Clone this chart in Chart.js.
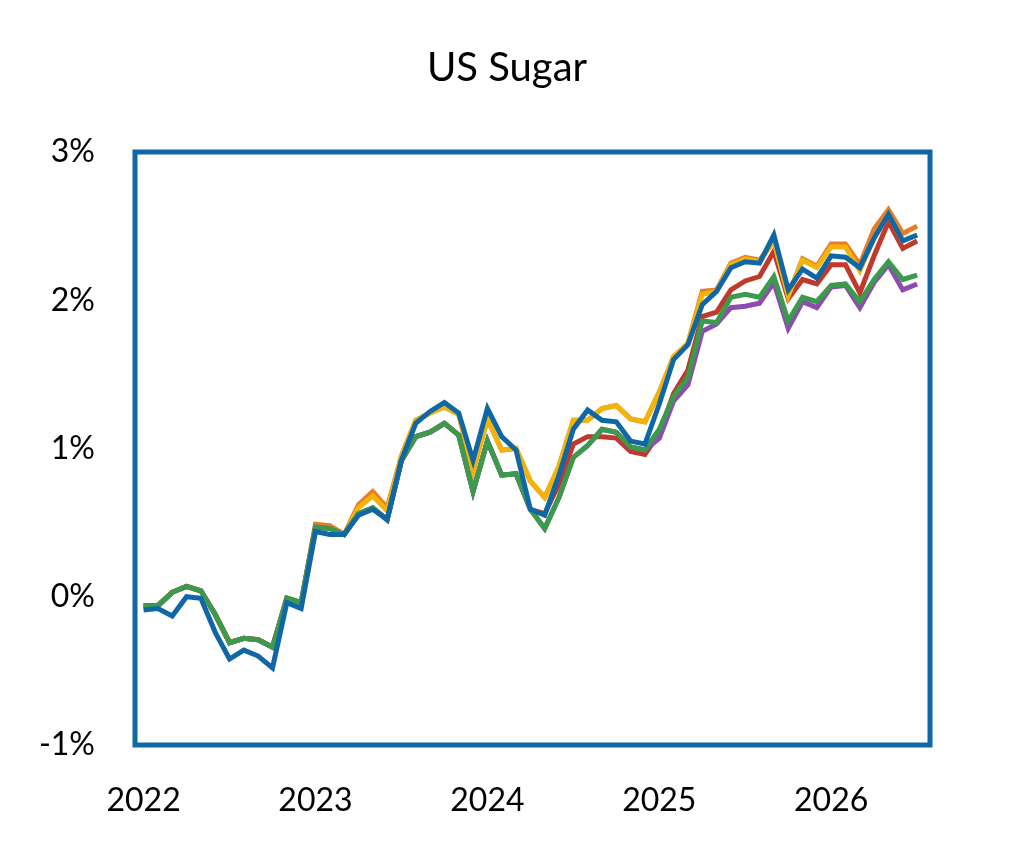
<!DOCTYPE html>
<html>
<head>
<meta charset="utf-8">
<script src="https://cdn.jsdelivr.net/npm/chart.js@4"></script>
<style>
  html, body { margin: 0; padding: 0; background: #fff; }
</style>
</head>
<body>
<canvas id="chart" width="1014" height="846"></canvas>
<script>
const title = 'US Sugar';
const yearTicks = [2022, 2023, 2024, 2025, 2026];
// monthly values, Jan 2022 .. Jul 2026 (percent)
const blue = [-0.09,-0.08,-0.13,0.0,-0.01,-0.24,-0.42,-0.36,-0.40,-0.48,-0.04,-0.08,
  0.44,0.42,0.42,0.55,0.59,0.52,0.92,1.17,1.25,1.31,1.24,0.92,
  1.27,1.08,0.99,0.59,0.55,0.82,1.13,1.26,1.19,1.18,1.05,1.03,
  1.30,1.60,1.70,1.97,2.06,2.22,2.26,2.25,2.44,2.07,2.21,2.15,
  2.30,2.29,2.22,2.42,2.58,2.40,2.44];
const green = [-0.06,-0.06,0.03,0.07,0.04,-0.12,-0.31,-0.28,-0.29,-0.34,-0.01,-0.04,
  0.47,0.46,0.42,0.56,0.60,0.52,0.92,1.08,1.11,1.17,1.09,0.71,
  1.05,0.82,0.83,0.59,0.46,0.67,0.94,1.02,1.13,1.11,1.01,0.99,
  1.13,1.35,1.48,1.86,1.85,2.02,2.04,2.02,2.16,1.86,2.02,1.99,
  2.10,2.11,1.99,2.14,2.26,2.14,2.17];
const purple = [-0.06,-0.06,0.03,0.07,0.04,-0.12,-0.31,-0.28,-0.29,-0.34,-0.01,-0.04,
  0.47,0.46,0.42,0.56,0.60,0.52,0.92,1.08,1.11,1.17,1.09,0.71,
  1.05,0.82,0.83,0.59,0.46,0.67,0.94,1.02,1.13,1.11,1.01,0.99,
  1.07,1.32,1.43,1.79,1.84,1.95,1.96,1.98,2.12,1.81,1.99,1.95,
  2.09,2.10,1.95,2.12,2.24,2.07,2.11];
const yellow = [-0.06,-0.06,0.03,0.07,0.04,-0.12,-0.31,-0.28,-0.29,-0.34,-0.01,-0.04,
  0.47,0.46,0.42,0.60,0.68,0.58,0.95,1.19,1.24,1.28,1.23,0.85,
  1.20,0.99,1.00,0.78,0.67,0.88,1.19,1.19,1.27,1.29,1.20,1.18,
  1.38,1.62,1.71,2.04,2.06,2.24,2.28,2.26,2.40,2.03,2.27,2.22,
  2.36,2.36,2.20,2.42,2.58,2.40,2.44];
const orange = [-0.06,-0.06,0.03,0.07,0.04,-0.12,-0.31,-0.28,-0.29,-0.34,-0.01,-0.04,
  0.49,0.48,0.42,0.62,0.71,0.60,0.95,1.19,1.24,1.28,1.23,0.85,
  1.20,0.99,1.00,0.78,0.67,0.88,1.19,1.19,1.27,1.29,1.20,1.18,
  1.38,1.62,1.71,2.06,2.07,2.25,2.29,2.27,2.40,2.03,2.28,2.23,
  2.38,2.38,2.24,2.48,2.61,2.45,2.50];
const red = [-0.06,-0.06,0.03,0.07,0.04,-0.12,-0.31,-0.28,-0.29,-0.34,-0.01,-0.04,
  0.47,0.46,0.42,0.56,0.60,0.52,0.92,1.08,1.11,1.17,1.09,0.71,
  1.05,0.82,0.83,0.59,0.56,0.76,1.03,1.08,1.08,1.07,0.98,0.96,
  1.10,1.37,1.53,1.89,1.92,2.07,2.13,2.16,2.33,2.01,2.14,2.11,
  2.24,2.24,2.05,2.30,2.53,2.35,2.40];

const series = [
  { data: blue, color: '#0f67a6' },
  { data: green, color: '#3b9a4c' },
  { data: purple, color: '#8e4cb0' },
  { data: yellow, color: '#f2b40c' },
  { data: orange, color: '#e87d27' },
  { data: red, color: '#c0392b' }
];

const frame = {
  id: 'frame',
  afterDatasetsDraw(chart) {
    const { ctx, chartArea: a } = chart;
    ctx.save();
    ctx.strokeStyle = '#0f67a6';
    ctx.lineWidth = 5;
    ctx.strokeRect(a.left, a.top, a.right - a.left, a.bottom - a.top);
    ctx.fillStyle = '#000';
    ctx.font = '40px Lato';
    ctx.textAlign = 'center';
    ctx.textBaseline = 'middle';
    ctx.fillText(title, 507, 68);
    ctx.restore();
  }
};

new Chart(document.getElementById('chart'), {
  type: 'line',
  data: {
    datasets: series.map(s => ({
      data: s.data.map((v, i) => ({ x: i, y: v })),
      borderColor: s.color,
      borderWidth: 5,
      pointRadius: 0,
      tension: 0
    }))
  },
  options: {
    responsive: false,
    animation: false,
    layout: { padding: { top: 152, right: 84, left: 0, bottom: 0 } },
    plugins: { legend: { display: false }, tooltip: { enabled: false } },
    scales: {
      x: {
        type: 'linear', min: -0.6, max: 54.9,
        grid: { display: false }, border: { display: false },
        afterBuildTicks: ax => { ax.ticks = yearTicks.map((y, k) => ({ value: k * 12 })); },
        afterFit: ax => { ax.height = 101; },
        ticks: {
          padding: 28, color: '#000', font: { size: 32, family: 'Lato' },
          maxRotation: 0, callback: v => String(yearTicks[Math.round(v / 12)])
        }
      },
      y: {
        min: -1, max: 3,
        grid: { display: false }, border: { display: false },
        afterFit: ax => { ax.width = 135; },
        ticks: {
          stepSize: 1, padding: 32, color: '#000', font: { size: 32, family: 'Lato' },
          callback: v => v + '%'
        }
      }
    }
  },
  plugins: [frame]
});
</script>
</body>
</html>
